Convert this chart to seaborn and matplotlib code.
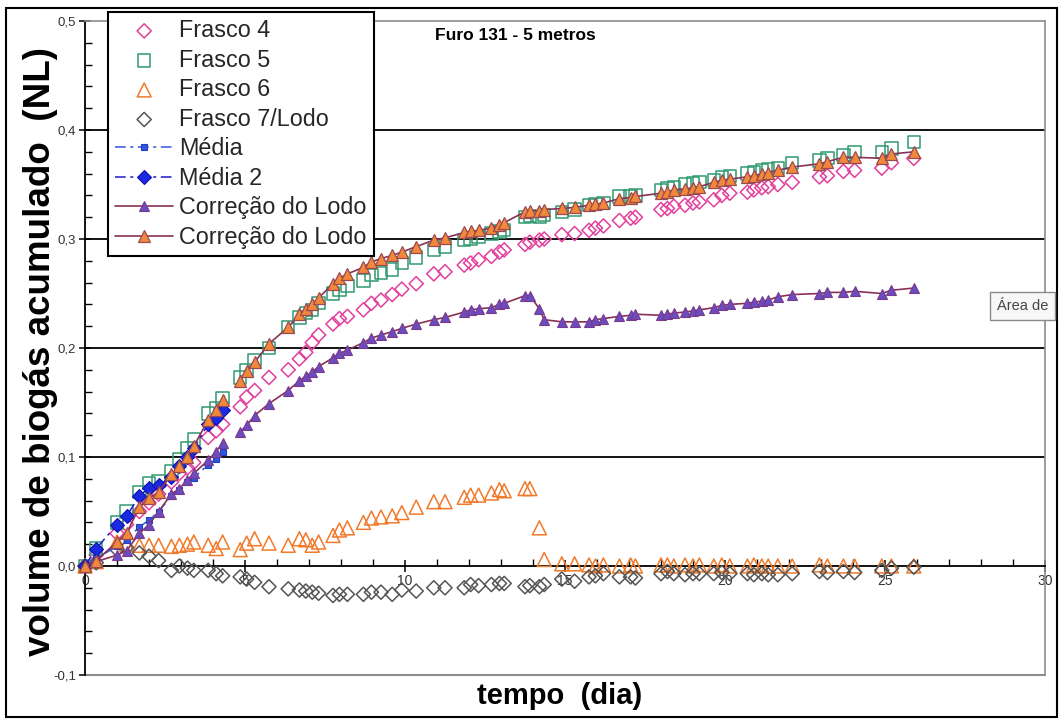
import numpy as np
import pandas as pd
import matplotlib
matplotlib.use("Agg")
import matplotlib.pyplot as plt
import seaborn as sns
from matplotlib.ticker import MultipleLocator, FixedLocator, FixedFormatter
from matplotlib.patches import Rectangle

# ---------------- data ----------------
tempo = [0.0, 0.35, 1.0, 1.3, 1.7, 2.0, 2.3, 2.7, 2.95, 3.2, 3.4, 3.85, 4.1, 4.3,
         4.85, 5.05, 5.3, 5.75, 6.35, 6.7, 6.9, 7.1, 7.3, 7.75,
         7.95, 8.2, 8.7, 8.95, 9.25, 9.6, 9.9, 10.35, 10.9, 11.25,
         11.85, 12.05, 12.3, 12.7, 12.95, 13.1, 13.75, 13.9, 14.2, 14.35,
         14.9, 15.3, 15.75, 15.95, 16.2, 16.7, 17.05, 17.2, 18.0, 18.2,
         18.4, 18.75, 19.0, 19.2, 19.65, 19.9, 20.15, 20.7, 20.9, 21.15,
         21.35, 21.65, 22.1, 22.95, 23.2, 23.7, 24.05, 24.9, 25.2, 25.9]

frasco4 = [0.0, 0.01, 0.03, 0.038, 0.05, 0.058, 0.066, 0.077, 0.085, 0.09, 0.095, 0.118, 0.124, 0.13,
           0.146, 0.155, 0.161, 0.173, 0.18, 0.19, 0.196, 0.205, 0.212, 0.222,
           0.227, 0.229, 0.235, 0.241, 0.244, 0.249, 0.254, 0.259, 0.268, 0.27,
           0.276, 0.278, 0.281, 0.284, 0.288, 0.29, 0.295, 0.297, 0.299, 0.3,
           0.304, 0.305, 0.308, 0.31, 0.312, 0.317, 0.319, 0.32, 0.327, 0.328,
           0.33, 0.331, 0.333, 0.334, 0.336, 0.34, 0.342, 0.343, 0.345, 0.347,
           0.348, 0.35, 0.352, 0.357, 0.358, 0.362, 0.363, 0.365, 0.37, 0.374]

frasco5 = [0.0, 0.016, 0.04, 0.05, 0.068, 0.076, 0.078, 0.087, 0.098, 0.108, 0.116, 0.14, 0.145, 0.154,
           0.173, 0.18, 0.189, 0.2, 0.219, 0.228, 0.232, 0.235, 0.241, 0.25,
           0.253, 0.257, 0.262, 0.267, 0.269, 0.272, 0.278, 0.283, 0.29, 0.293,
           0.299, 0.3, 0.302, 0.305, 0.307, 0.308, 0.32, 0.321, 0.32, 0.322,
           0.325, 0.327, 0.331, 0.332, 0.333, 0.339, 0.339, 0.34, 0.345, 0.347,
           0.348, 0.35, 0.351, 0.352, 0.354, 0.357, 0.358, 0.36, 0.361, 0.363,
           0.364, 0.365, 0.37, 0.372, 0.374, 0.377, 0.38, 0.38, 0.383, 0.389]

frasco6 = [0.0, 0.004, 0.022, 0.02, 0.019, 0.019, 0.019, 0.018, 0.019, 0.02, 0.022, 0.019, 0.016, 0.022,
           0.015, 0.021, 0.025, 0.021, 0.019, 0.025, 0.024, 0.019, 0.022, 0.028,
           0.033, 0.035, 0.04, 0.044, 0.045, 0.046, 0.049, 0.054, 0.059, 0.059,
           0.063, 0.065, 0.065, 0.067, 0.07, 0.069, 0.071, 0.071, 0.035, 0.006,
           0.002, 0.002, 0.001, 0.0, 0.001, 0.0, 0.001, 0.0, 0.001, 0.001,
           0.0, 0.001, 0.0, 0.001, 0.0, 0.001, 0.0, 0.0, 0.001, 0.0,
           0.0, 0.0, 0.0, 0.001, 0.0, 0.0, 0.0, 0.0, 0.0, 0.0]

frasco7_lodo = [0.0, 0.003, 0.015, 0.017, 0.012, 0.009, 0.005, -0.004, 0.0, -0.002, -0.004, -0.004, -0.007, -0.009,
                -0.01, -0.012, -0.015, -0.019, -0.021, -0.022, -0.023, -0.024, -0.025, -0.027,
                -0.026, -0.026, -0.026, -0.024, -0.024, -0.026, -0.022, -0.023, -0.02, -0.02,
                -0.02, -0.017, -0.018, -0.017, -0.016, -0.016, -0.019, -0.018, -0.019, -0.017,
                -0.012, -0.014, -0.01, -0.009, -0.007, -0.01, -0.01, -0.011, -0.007, -0.005,
                -0.007, -0.008, -0.007, -0.007, -0.007, -0.006, -0.007, -0.007, -0.008, -0.007,
                -0.008, -0.008, -0.007, -0.005, -0.006, -0.005, -0.006, -0.004, -0.002, -0.001]

# "Média" and "Média 2" only exist in the first part of the test (first 14 times)
media = [0.0, 0.007, 0.018, 0.024, 0.036, 0.042, 0.05, 0.064, 0.07, 0.077, 0.081, 0.093, 0.098, 0.105]
media2 = [0.0, 0.016, 0.038, 0.046, 0.064, 0.072, 0.074, 0.082, 0.092, 0.1, 0.108, 0.13, 0.136, 0.143]

correcao1 = [0.0, 0.004, 0.01, 0.014, 0.03, 0.038, 0.05, 0.066, 0.071, 0.079, 0.085, 0.097, 0.105, 0.113,
             0.123, 0.129, 0.138, 0.149, 0.161, 0.17, 0.174, 0.178, 0.183, 0.191,
             0.195, 0.198, 0.205, 0.209, 0.212, 0.215, 0.218, 0.222, 0.226, 0.228,
             0.233, 0.235, 0.236, 0.237, 0.24, 0.241, 0.248, 0.248, 0.236, 0.226,
             0.224, 0.224, 0.224, 0.226, 0.227, 0.229, 0.23, 0.231, 0.23, 0.231,
             0.232, 0.233, 0.234, 0.235, 0.237, 0.239, 0.24, 0.241, 0.242, 0.243,
             0.244, 0.247, 0.249, 0.25, 0.251, 0.251, 0.252, 0.25, 0.253, 0.255]

correcao2 = [0.0, 0.005, 0.022, 0.03, 0.054, 0.062, 0.068, 0.084, 0.092, 0.1, 0.11, 0.134, 0.143, 0.152,
             0.17, 0.179, 0.187, 0.204, 0.219, 0.231, 0.236, 0.24, 0.246, 0.259,
             0.264, 0.268, 0.274, 0.279, 0.282, 0.285, 0.288, 0.293, 0.299, 0.301,
             0.306, 0.307, 0.308, 0.31, 0.313, 0.315, 0.325, 0.326, 0.326, 0.327,
             0.328, 0.329, 0.331, 0.332, 0.333, 0.337, 0.338, 0.339, 0.342, 0.343,
             0.345, 0.346, 0.347, 0.348, 0.352, 0.354, 0.355, 0.357, 0.358, 0.36,
             0.361, 0.363, 0.366, 0.369, 0.371, 0.375, 0.375, 0.374, 0.378, 0.38]

n_first = 14  # first measurement block (before the gap)

x_ticks = [0, 5, 10, 15, 20, 25, 30]
x_tick_labels = ["0", "5", "10", "15", "20", "25", "30"]
y_ticks = [-0.1, 0.0, 0.1, 0.2, 0.3, 0.4, 0.5]
y_tick_labels = ["-0,1", "0,0", "0,1", "0,2", "0,3", "0,4", "0,5"]
grid_values = [0.1, 0.2, 0.3, 0.4]

title = "Furo 131 - 5 metros"
x_label = "tempo  (dia)"
y_label = "volume de biogás acumulado  (NL)"
labels = ["Frasco 4", "Frasco 5", "Frasco 6", "Frasco 7/Lodo",
          "Média", "Média 2", "Correção do Lodo", "Correção do Lodo"]

# ---------------- style ----------------
sns.set_theme(style="white")
plt.rcParams['font.family'] = ['Liberation Sans', 'DejaVu Sans']

fig = plt.figure(figsize=(10.6, 7.2), dpi=100)
fig.patch.set_facecolor("white")
ax = fig.add_axes([85 / 1060, 1 - 675 / 720, 960 / 1060, 654 / 720])
ax.set_facecolor("white")

df = pd.DataFrame({"t": tempo, "f4": frasco4, "f5": frasco5, "f6": frasco6,
                   "f7": frasco7_lodo, "c1": correcao1, "c2": correcao2})
first = df.iloc[:n_first]
second = df.iloc[n_first:]

handles = []

def scat(col, marker, s, ec, label):
    sns.scatterplot(data=df, x="t", y=col, marker=marker, s=s, facecolor="none",
                    edgecolor=ec, linewidth=1.1, ax=ax, label=label,
                    clip_on=False, zorder=3, legend=False)
    handles.append(ax.collections[-1])

scat("f4", "D", 52, "#e2409c", labels[0])
scat("f5", "s", 78, "#2f9a70", labels[1])
scat("f6", "^", 100, "#f07a2a", labels[2])
scat("f7", "D", 52, "#555555", labels[3])

# Média (dash-dot, small squares)
sns.lineplot(x=tempo[:n_first], y=media, ax=ax, sort=False, estimator=None,
             color="#2f55e0", lw=1.1, linestyle=(0, (7, 3, 2, 3)),
             marker="s", markersize=4.5, markerfacecolor="#2f55e0",
             markeredgecolor="#2040c0", markeredgewidth=0.8,
             label=labels[4], clip_on=False, zorder=4)
handles.append(ax.lines[-1])

# Média 2 (dash-dot, filled diamonds)
sns.lineplot(x=tempo[:n_first], y=media2, ax=ax, sort=False, estimator=None,
             color="#1a1ad0", lw=1.1, linestyle=(0, (7, 3, 2, 3)),
             marker="D", markersize=7, markerfacecolor="#1a2ae0",
             markeredgecolor="#1010b0", markeredgewidth=0.8,
             label=labels[5], clip_on=False, zorder=4)
handles.append(ax.lines[-1])

# Correção do Lodo (two blocks)
for k, part in enumerate([first, second]):
    sns.lineplot(data=part, x="t", y="c1", ax=ax, sort=False, estimator=None,
                 color="#8a3058", lw=1.2, marker="^", markersize=6.5,
                 markerfacecolor="#6a4cc0", markeredgecolor="#7a3a8a",
                 markeredgewidth=0.8, label=labels[6] if k == 0 else "_nolegend_",
                 clip_on=False, zorder=5)
    if k == 0:
        handles.append(ax.lines[-1])

for k, part in enumerate([first, second]):
    sns.lineplot(data=part, x="t", y="c2", ax=ax, sort=False, estimator=None,
                 color="#8a3058", lw=1.2, marker="^", markersize=8.5,
                 markerfacecolor="#f2883a", markeredgecolor="#9a4a50",
                 markeredgewidth=0.9, label=labels[7] if k == 0 else "_nolegend_",
                 clip_on=False, zorder=6)
    if k == 0:
        handles.append(ax.lines[-1])

# ---------------- axes ----------------
ax.set_xlim(0, 30)
ax.set_ylim(-0.1, 0.5)
ax.set_xlabel("")
ax.set_ylabel("")

for v in grid_values:
    ax.axhline(v, color="black", lw=1.3, zorder=1)
ax.axhline(-0.1, color="#8c8c8c", lw=1.5, zorder=1, clip_on=False)

ax.spines["bottom"].set_position(("data", 0))
ax.spines["bottom"].set_color("black")
ax.spines["bottom"].set_linewidth(1.3)
ax.spines["left"].set_color("black")
ax.spines["left"].set_linewidth(1.3)
for sp in ["top", "right"]:
    ax.spines[sp].set_color("#8c8c8c")
    ax.spines[sp].set_linewidth(1.2)

ax.xaxis.set_major_locator(FixedLocator(x_ticks))
ax.xaxis.set_major_formatter(FixedFormatter(x_tick_labels))
ax.xaxis.set_minor_locator(MultipleLocator(1))
ax.yaxis.set_major_locator(FixedLocator(y_ticks))
ax.yaxis.set_major_formatter(FixedFormatter(y_tick_labels))
ax.yaxis.set_minor_locator(MultipleLocator(0.02))

ax.tick_params(axis="x", which="major", direction="inout", length=9, width=1.1,
               color="black", labelsize=10, labelcolor="#333333", pad=1, bottom=True)
ax.tick_params(axis="x", which="minor", direction="in", length=5, width=1.0,
               color="black", bottom=True)
ax.tick_params(axis="y", which="major", direction="inout", length=9, width=1.1,
               color="black", labelsize=9.5, labelcolor="#333333", pad=2, left=True)
ax.tick_params(axis="y", which="minor", direction="in", length=5, width=1.0,
               color="black", left=True)

# ---------------- texts ----------------
fig.text(435 / 1060, 1 - 36 / 720, title, fontsize=12.5, fontweight="bold",
         ha="left", va="center", color="black")
fig.text(560 / 1060, 1 - 696 / 720, x_label, fontsize=21, fontweight="bold",
         ha="center", va="center", color="black")
fig.text(41 / 1060, 1 - 351 / 720, y_label, fontsize=26.5, fontweight="bold",
         rotation=90, ha="center", va="center", color="black")

# tooltip remnant ("Área de ...")
fig.text(997 / 1060, 1 - 306 / 720, "Área de", fontsize=10.5, color="#444444",
         ha="left", va="center",
         bbox=dict(boxstyle="square,pad=0.45", fc="#f7f7f7", ec="#8a8a8a", lw=1))

# ---------------- legend ----------------
leg = ax.legend(handles, labels, loc="upper left",
                bbox_to_anchor=(108 / 1060, 1 - 12 / 720), bbox_transform=fig.transFigure,
                fontsize=16.8, frameon=True, fancybox=False, framealpha=1,
                edgecolor="black", borderpad=0.3, labelspacing=0.28,
                handlelength=2.5, handletextpad=0.25, borderaxespad=0,
                scatterpoints=1)
leg.get_frame().set_linewidth(1.5)
leg.set_zorder(10)

# figure border
fig.patches.append(Rectangle((6 / 1060, 3 / 720), 1051 / 1060, 709 / 720,
                             transform=fig.transFigure, fill=False,
                             ec="black", lw=1.5))

fig.savefig("out.png", dpi=100)
